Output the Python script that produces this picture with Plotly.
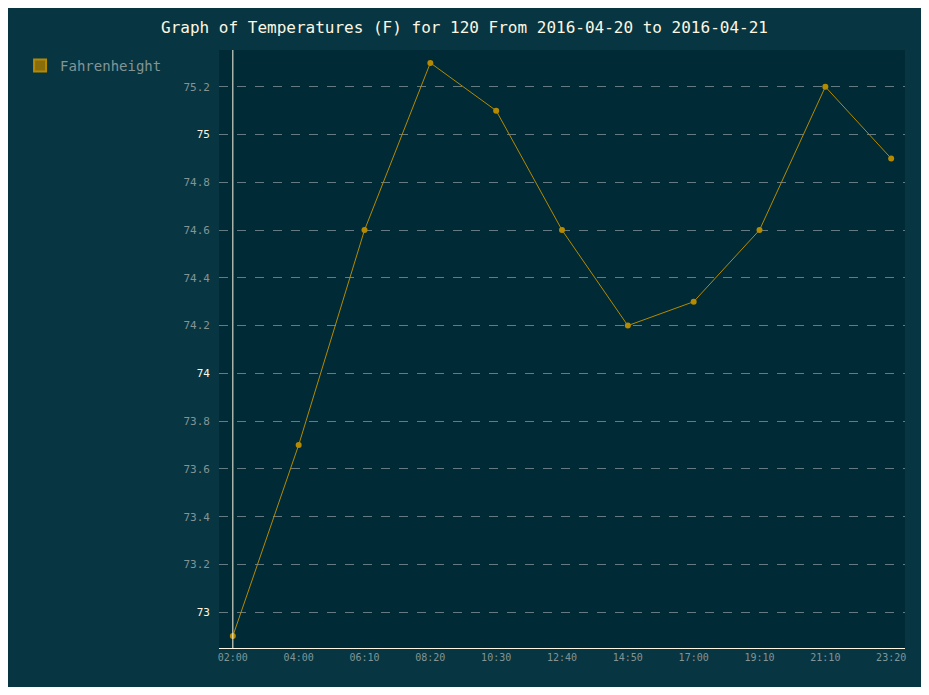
import plotly.graph_objects as go

times = ["02:00", "04:00", "06:10", "08:20", "10:30", "12:40", "14:50", "17:00", "19:10", "21:10", "23:20"]
fahrenheit = [72.9, 73.7, 74.6, 75.3, 75.1, 74.6, 74.2, 74.3, 74.6, 75.2, 74.9]
ytick_vals = [73, 73.2, 73.4, 73.6, 73.8, 74, 74.2, 74.4, 74.6, 74.8, 75, 75.2]
ytick_text = ["73", "73.2", "73.4", "73.6", "73.8", "74", "74.2", "74.4", "74.6", "74.8", "75", "75.2"]
major = ["73", "74", "75"]

labels = [f"<span style='color:#fdf6e3'>{t}</span>" if t in major else t for t in ytick_text]

fig = go.Figure()
fig.add_trace(go.Scatter(
    x=times, y=fahrenheit, name="Fahrenheight", mode="lines+markers", showlegend=False,
    line=dict(color="#b58900", width=1), marker=dict(color="#b58900", size=6),
))
# legend swatch
fig.add_trace(go.Scatter(
    x=[None], y=[None], name="Fahrenheight", mode="markers",
    marker=dict(color="#8a6d0b", size=13, symbol="square", line=dict(color="#b58900", width=1)),
))

fig.add_shape(type="line", xref="x", yref="paper", x0=0, x1=0, y0=0, y1=1,
              line=dict(color="#fdf6e3", width=1))

fig.update_layout(
    width=913, height=679,
    paper_bgcolor="#073642", plot_bgcolor="#002b36",
    margin=dict(l=196, r=16, t=42, b=39),
    font=dict(family="DejaVu Sans Mono", color="#839496", size=11),
    title=dict(text="Graph of Temperatures (F) for 120 From 2016-04-20 to 2016-04-21",
               x=0.5, xanchor="center", y=0.98,
               font=dict(family="DejaVu Sans Mono", size=16, color="#fdf6e3")),
    showlegend=True,
    legend=dict(x=-0.29, y=1.0, xanchor="left", yanchor="top", bgcolor="rgba(0,0,0,0)",
                font=dict(size=14, color="#839496"), itemsizing="constant", itemwidth=30),
)
fig.update_xaxes(type="category", range=[-0.21, 10.21], showgrid=False, zeroline=False,
                 showline=True, linecolor="#fdf6e3", linewidth=1, ticks="",
                 tickfont=dict(size=10, color="#839496"))
fig.update_yaxes(range=[72.85, 75.354], tickvals=ytick_vals, ticktext=labels,
                 showgrid=True, gridcolor="#657b83", griddash="dash", gridwidth=1,
                 zeroline=False, showline=False, ticks="", ticklabelstandoff=8,
                 tickfont=dict(size=11, color="#839496"))

fig.write_html("out.html")
